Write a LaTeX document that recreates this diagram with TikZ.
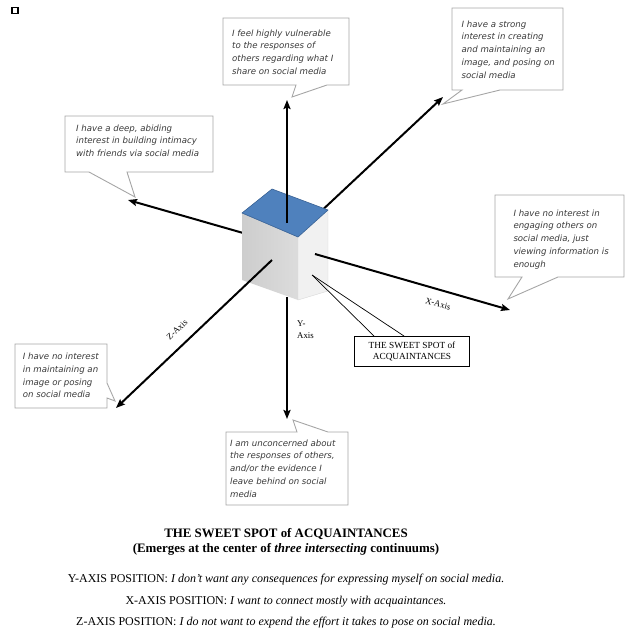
\documentclass[tikz,border=0pt]{standalone}
\usepackage{fontspec}
\setmainfont{Liberation Serif}
\newfontfamily\callfont{DejaVu Sans}
\usetikzlibrary{arrows.meta,calc}
\definecolor{calloutgray}{HTML}{A6A6A6}
\definecolor{calltextc}{HTML}{3A3A3A}
\definecolor{cubeblue}{HTML}{4F81BD}
\definecolor{cubeedge}{HTML}{3A6396}
\definecolor{leftfaceA}{HTML}{CDCDCD}
\definecolor{leftfaceB}{HTML}{DCDCDC}
\definecolor{rightface}{HTML}{F1F1F1}
\begin{document}
\begin{tikzpicture}[x=1pt,y=-1pt,
  callout/.style={draw=calloutgray, fill=white, line width=0.9pt, line join=miter},
  calltext/.style={anchor=north west, inner sep=0pt, align=left, text=calltextc,
    font=\callfont\itshape\fontsize{8.6}{12.75}\selectfont},
  axisarrow/.style={line width=2pt, -{Stealth[length=9pt,width=7pt,inset=1.5pt]}},
  axislabel/.style={font=\fontsize{8.8}{12}\selectfont, inner sep=0pt},
]
\useasboundingbox (0,0) rectangle (626,632);

% small square top-left
\draw[line width=1.5pt] (12,7.5) rectangle (18,13.5);

% ---------- callouts ----------
\draw[callout] (223,18) -- (349,18) -- (349,85) -- (327,85) -- (292,97) -- (296,85) -- (223,85) -- cycle;
\node[calltext] (t1) at (232,29.5) {I feel highly vulnerable\\to the responses of\\others regarding what I\\share on social media};

\draw[callout] (452,8) -- (563,8) -- (563,90) -- (500,90) -- (443,104) -- (462,90) -- (452,90) -- cycle;
\node[calltext] (t2) at (461.5,20.5) {I have a strong\\interest in creating\\and maintaining an\\image, and posing on\\social media};

\draw[callout] (65,116) -- (213,116) -- (213,172) -- (127,172) -- (135,197) -- (89,172) -- (65,172) -- cycle;
\node[calltext] (t3) at (76,124.5) {I have a deep, abiding\\interest in building intimacy\\with friends via social media};

\draw[callout] (495,195) -- (624,195) -- (624,277) -- (558,277) -- (508,299) -- (522,277) -- (495,277) -- cycle;
\node[calltext] (t4) at (513.3,209.5) {I have no interest in\\engaging others on\\social media, just\\viewing information is\\enough};

\draw[callout] (15,344) -- (107,344) -- (107,383) -- (115,401) -- (107,398) -- (107,408) -- (15,408) -- cycle;
\node[calltext] (t5) at (22.7,353) {I have no interest\\in maintaining an\\image or posing\\on social media};

\draw[callout] (226,432) -- (297,432) -- (293,420) -- (328,432) -- (348,432) -- (348,505) -- (226,505) -- cycle;
\node[calltext] (t6) at (230,439.5) {I am unconcerned about\\the responses of others,\\and/or the evidence I\\leave behind on social\\media};

% ---------- axes behind the cube ----------
\coordinate (O) at (285,245);
\coordinate (tipXneg) at (128,200);
\coordinate (tipZpos) at (443,97);
\draw[axisarrow] (O) -- (tipXneg);
\draw[axisarrow] (O) -- (tipZpos);

% ---------- cube ----------
\coordinate (A) at (242,213);
\coordinate (B) at (272,189);
\coordinate (C) at (328,210);
\coordinate (D) at (298,237);
\coordinate (E) at (298,300);
\coordinate (F) at (242,280);
\coordinate (G) at (328,291);
\shade[left color=leftfaceA, right color=leftfaceB] (A) -- (D) -- (E) -- (F) -- cycle;
\fill[rightface] (D) -- (C) -- (G) -- (E) -- cycle;
\draw[white!85!black, line width=0.4pt] (D) -- (C) -- (G) -- (E) -- cycle;
\draw[fill=cubeblue, draw=cubeedge, line width=0.6pt, line join=round] (A) -- (B) -- (C) -- (D) -- cycle;

% ---------- axes over the cube ----------
\coordinate (Ytop) at (287,223);
\coordinate (tipYpos) at (287,100);
\coordinate (Ybot) at (287,297);
\coordinate (tipYneg) at (287,419);
\coordinate (Xstart) at (315,254);
\coordinate (tipXpos) at (510,310);
\coordinate (Zstart) at (272,260);
\coordinate (tipZneg) at (116,408);
\draw[axisarrow] (Ytop) -- (tipYpos);
\draw[axisarrow] (Ybot) -- (tipYneg);
\draw[axisarrow] (Xstart) -- (tipXpos);
\draw[axisarrow] (Zstart) -- (tipZneg);

% axis labels
\node[axislabel, rotate=-16] (xlab) at (438,304) {X-Axis};
\node[axislabel, rotate=43] (zlab) at (177,330) {Z-Axis};
\node[axislabel, anchor=north west, align=left] (ylab) at (297,321) {Y-\\Axis};

% ---------- sweet spot box ----------
\node[draw, line width=0.8pt, fill=white, minimum width=115pt, minimum height=30pt,
      align=center, inner sep=1pt, font=\fontsize{9.3}{11.5}\selectfont] (ss) at (412,351.5)
      {THE SWEET SPOT of\\ACQUAINTANCES};
\coordinate (sspt) at (312,275);
\draw[line width=0.7pt] (sspt) -- ($(ss.north west)+(20,0)$);
\draw[line width=0.7pt] (sspt) -- ($(ss.north west)+(50,0)$);

% ---------- bottom text ----------
\node[font=\fontsize{12.9}{15}\selectfont\bfseries, align=center, inner sep=0pt] (title) at (286,542)
  {THE SWEET SPOT of ACQUAINTANCES\\(Emerges at the center of \textit{three intersecting} continuums)};
\node[font=\fontsize{12}{14}\selectfont, inner sep=0pt] (ypos) at (286,580)
  {Y-AXIS POSITION: \textit{I don't want any consequences for expressing myself on social media.}};
\node[font=\fontsize{12}{14}\selectfont, inner sep=0pt] (xpos) at (286,602)
  {X-AXIS POSITION: \textit{I want to connect mostly with acquaintances.}};
\node[font=\fontsize{12}{14}\selectfont, inner sep=0pt] (zpos) at (286,623)
  {Z-AXIS POSITION: \textit{I do not want to expend the effort it takes to pose on social media.}};
\end{tikzpicture}
\end{document}
